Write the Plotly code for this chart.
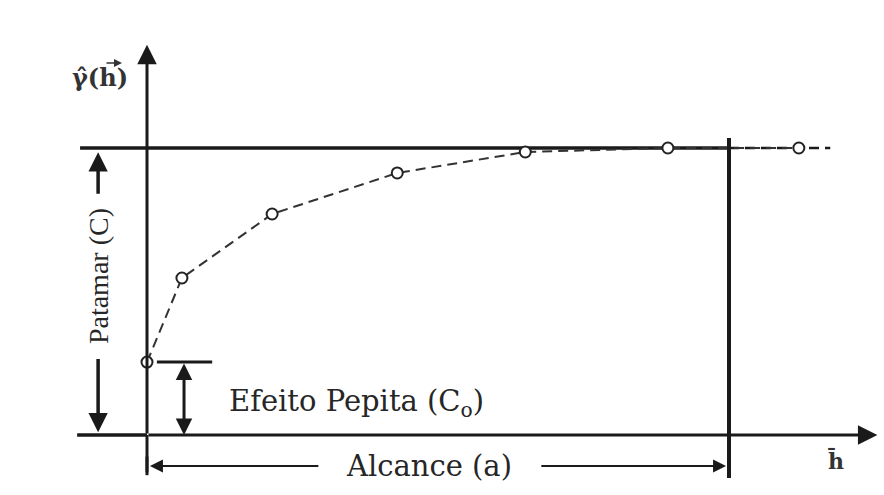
import plotly.graph_objects as go

# --- data (semivariogram sketch) ---
sample_h = [0.0, 0.6, 2.15, 4.3, 6.5, 8.95, 11.2]
sample_gamma = [0.254, 0.547, 0.77, 0.913, 0.986, 1.0, 1.0]
sill_c = 1.0
nugget_c0 = 0.254
range_a = 10.0

label_y = "γ̂(h)"
label_x = "h̄"
label_sill = "Patamar (C)"
label_nugget = "Efeito Pepita (C<sub>o</sub>)"
label_range = "Alcance (a)"

# --- axes mapping: origin at px (147, 435) ---
px_per_h = 58.2
px_per_g = 287.0
x_range = [-147 / px_per_h, (884 - 147) / px_per_h]
y_range = [-(495 - 435) / px_per_g, 435 / px_per_g]

INK = "#1a1a1a"
fig = go.Figure()

fig.add_trace(go.Scatter(
    x=sample_h, y=sample_gamma, mode="lines+markers",
    line=dict(color="#333333", width=2, dash="10px,6px"),
    marker=dict(size=11, color="white", line=dict(color="#222222", width=2)),
    showlegend=False, hoverinfo="skip"))

shapes = []
# sill line (solid up to range, dashed beyond)
shapes.append(dict(type="line", x0=-1.15, x1=range_a, y0=sill_c, y1=sill_c,
                   line=dict(color=INK, width=3.5), layer="below"))
shapes.append(dict(type="line", x0=range_a, x1=range_a + 1.74, y0=sill_c, y1=sill_c,
                   line=dict(color=INK, width=2.5, dash="10px,6px"), layer="below"))
# x axis line (left part beyond the origin)
shapes.append(dict(type="line", x0=-1.2, x1=0, y0=0, y1=0, line=dict(color=INK, width=3.5)))
# y axis below origin
shapes.append(dict(type="line", x0=0, x1=0, y0=-0.13, y1=0, line=dict(color=INK, width=3)))
# range vertical line
shapes.append(dict(type="line", x0=range_a, x1=range_a, y0=-0.15, y1=1.035,
                   line=dict(color=INK, width=4)))
# nugget short line
shapes.append(dict(type="line", x0=0.17, x1=1.12, y0=nugget_c0, y1=nugget_c0,
                   line=dict(color=INK, width=3)))

ann = []
def arrow(x, y, ax, ay, w=3, size=1.0, side="end", color=INK):
    ann.append(dict(x=x, y=y, ax=ax, ay=ay, xref="x", yref="y", axref="x", ayref="y",
                    text="", showarrow=True, arrowhead=2, arrowsize=size, arrowwidth=w,
                    arrowcolor=color, standoff=0, startstandoff=0, arrowside=side,
                    startarrowhead=2, startarrowsize=size))

# axes with arrowheads
arrow(0, 1.36, 0, 0, w=3, size=1.3)
arrow(12.55, 0, 0, 0, w=3, size=1.3)
# Patamar arrow (broken by text)
arrow(-0.84, 0.985, -0.84, 0.835, w=3.5, size=1.1)
arrow(-0.84, 0.01, -0.84, 0.27, w=3.5, size=1.1)
# nugget double arrow
arrow(0.636, 0.0, 0.636, nugget_c0, w=3, size=1.1, side="end+start")
# range arrow (broken by text)
arrow(0.05, -0.108, 2.97, -0.108, w=2, size=1.3)
arrow(range_a - 0.05, -0.108, 6.75, -0.108, w=2, size=1.3)
# tick at left end of range arrow
shapes.append(dict(type="line", x0=0, x1=0, y0=-0.14, y1=-0.075, line=dict(color=INK, width=3)))
# small vector arrow over the h in the y label
arrow((122 - 147) / px_per_h, (435 - 63) / px_per_g, (105 - 147) / px_per_h,
      (435 - 63) / px_per_g, w=1.6, size=1.0, color="#333333")

txt_font = dict(family="DejaVu Serif", size=29, color="#262626")
ann.append(dict(x=(356 - 147) / px_per_h, y=(435 - 403) / px_per_g, xref="x", yref="y",
                text=label_nugget, showarrow=False, font=txt_font))
ann.append(dict(x=(429 - 147) / px_per_h, y=-0.108, xref="x", yref="y",
                text=label_range, showarrow=False, font=txt_font))
ann.append(dict(x=-0.84, y=(435 - 276) / px_per_g, xref="x", yref="y",
                text=label_sill, showarrow=False, textangle=-90,
                font=dict(family="Liberation Serif", size=28, color="#262626")))
ann.append(dict(x=(100 - 147) / px_per_h, y=(435 - 77) / px_per_g, xref="x", yref="y",
                text="<b>" + label_y + "</b>", showarrow=False,
                font=dict(family="DejaVu Serif", size=24, color="#333333")))
ann.append(dict(x=(836 - 147) / px_per_h, y=(435 - 460) / px_per_g, xref="x", yref="y",
                text="<b>" + label_x + "</b>", showarrow=False,
                font=dict(family="DejaVu Serif", size=22, color="#333333")))

fig.update_layout(
    width=884, height=495, autosize=False,
    margin=dict(l=0, r=0, t=0, b=0),
    paper_bgcolor="white", plot_bgcolor="white",
    xaxis=dict(range=x_range, visible=False, fixedrange=True),
    yaxis=dict(range=y_range, visible=False, fixedrange=True),
    shapes=shapes, annotations=ann, showlegend=False)

fig.write_html("out.html")
